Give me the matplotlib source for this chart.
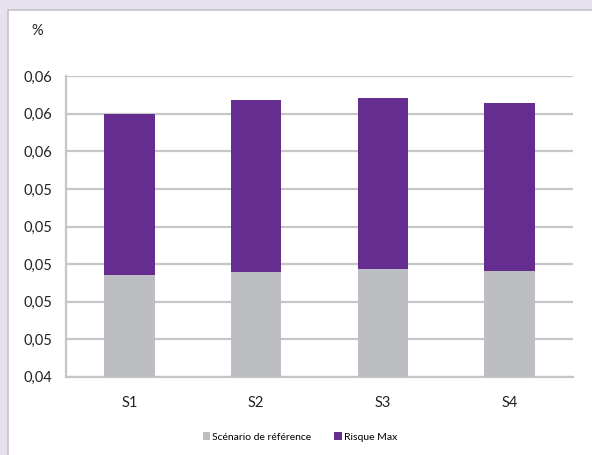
import matplotlib
matplotlib.use("Agg")
import matplotlib.pyplot as plt
from matplotlib.patches import Rectangle

scenarios = ["S1", "S2", "S3", "S4"]
reference = [0.04942, 0.04959, 0.04972, 0.04963]
risque_max = [0.00857, 0.00915, 0.00914, 0.00895]
y_ticks = [0.044, 0.046, 0.048, 0.050, 0.052, 0.054, 0.056, 0.058, 0.060]
y_tick_labels = ["0,04", "0,05", "0,05", "0,05", "0,05", "0,05", "0,06", "0,06", "0,06"]

plt.rcParams["font.family"] = ["Lato", "DejaVu Sans"]

fig = plt.figure(figsize=(5.92, 4.55), dpi=100, facecolor="#e6e0ef")

# white panel with grey edge, kept behind the axes
fig.patches.append(Rectangle((8 / 592, -0.01), 1.0, 445 / 455 + 0.01,
                             transform=fig.transFigure, facecolor="white",
                             edgecolor="#c4c4c8", linewidth=1.2, zorder=-5))

ax = fig.add_axes([66 / 592, 78.3 / 455, 507 / 592, 300.4 / 455])
ax.set_facecolor("none")

x = range(len(scenarios))
ax.bar(x, reference, width=0.4, color="#bdbec1", label="Scénario de référence", zorder=3)
ax.bar(x, risque_max, width=0.4, bottom=reference, color="#652d90",
       label="Risque Max", zorder=3)

ax.set_xlim(-0.5, 3.5)
ax.set_ylim(y_ticks[0], y_ticks[-1])
ax.set_yticks(y_ticks)
ax.set_yticklabels(y_tick_labels)
ax.set_xticks(list(x))
ax.set_xticklabels(scenarios)
ax.tick_params(axis="both", length=0, labelsize=10.5, colors="#222222")
ax.tick_params(axis="y", pad=10)
ax.tick_params(axis="x", pad=14)

ax.grid(axis="y", color="#c6c6ca", linewidth=1.6, zorder=0)
for side in ["top", "right"]:
    ax.spines[side].set_visible(False)
for side in ["left", "bottom"]:
    ax.spines[side].set_color("#c6c6ca")
    ax.spines[side].set_linewidth(1.6)

fig.text(31 / 592, 1 - 31 / 455, "%", fontsize=10.5, color="#222222", va="center")

fig.legend(loc="center", bbox_to_anchor=(300 / 592, 1 - 437 / 455), ncol=2,
           frameon=False, fontsize=7.5, handlelength=0.7, handleheight=0.7,
           handletextpad=0.2, columnspacing=2.2)

fig.savefig("out.png", dpi=100, facecolor=fig.get_facecolor())
